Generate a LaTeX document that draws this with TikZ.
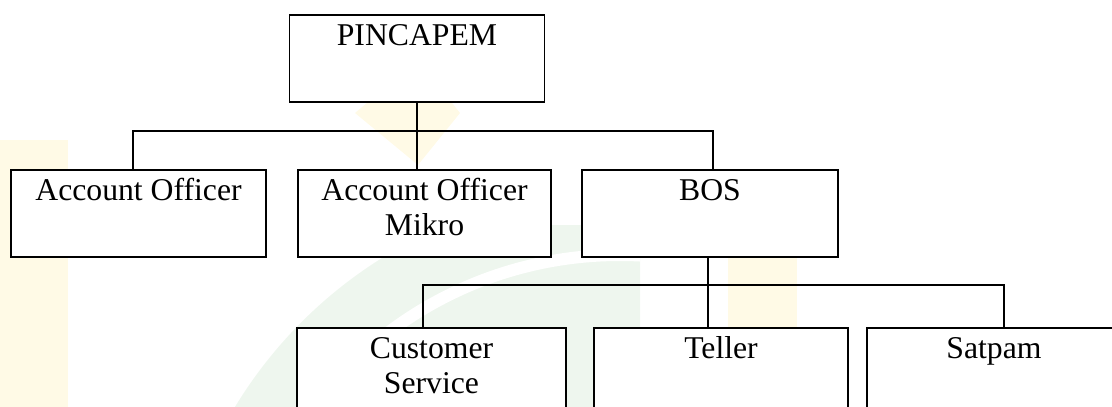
\documentclass[tikz,border=0pt]{standalone}
\usepackage{fontspec}
\setmainfont{Liberation Serif}
\usepackage{xcolor}
\usepackage{tikz}
\definecolor{markyellow}{HTML}{FFFAE6}
\definecolor{markgreen}{HTML}{EEF6EE}

\begin{document}
\begin{tikzpicture}[
  x=1pt, y=-1pt,
  unit/.style={
    rectangle, anchor=north,
    draw=black, fill=white, line width=1.6pt,
    inner sep=0pt, minimum height=87pt,
    text height=31pt, text depth=56pt,
    font=\fontsize{31.7}{35}\selectfont},
  ln/.style={line width=1.5pt},
]
  \useasboundingbox (0,0) rectangle (1112,407);

  % faint watermark behind the chart
  \fill[markyellow] (0,140) rectangle (68,407);
  \fill[markyellow] (728,250) rectangle (797,407);
  \fill[markyellow] (355,113) -- (418,60) -- (460,113) -- (418,165) -- cycle;
  \begin{scope}
    \clip (150,225) rectangle (640,407);
    \fill[markgreen] (620,640) circle (450);
    \draw[white, line width=12pt] (620,640) circle (385);
  \end{scope}

  \node[unit, minimum width=255pt] (pin) at (417,14) {PINCAPEM};

  \node[unit, minimum width=255pt] (ao)  at (138.5,169) {Account Officer};
  \node[unit, minimum width=253pt] (aom) at (424.5,169)
    {\begin{tabular}[t]{@{}c@{}}Account Officer\\Mikro\end{tabular}};
  \node[unit, minimum width=256pt] (bos) at (710,169) {BOS};

  \node[unit, minimum width=269pt] (cs)  at (431.5,327)
    {\begin{tabular}[t]{@{}c@{}}Customer\\Service\end{tabular}};
  \node[unit, minimum width=254pt] (tel) at (721,327) {Teller};
  \node[unit, minimum width=254pt] (sat) at (994,327) {Satpam};

  \coordinate (barA) at (418,131);
  \coordinate (barB) at (708,285);

  \draw[ln] (pin.south) -- (aom.north -| pin.south);
  \draw[ln] ([xshift=-5.5pt]ao.north) |- (barA) -| ([xshift=3pt]bos.north);
  \draw[ln] ([xshift=-2pt]bos.south) -- (tel.north -| barB);
  \draw[ln] ([xshift=-8.5pt]cs.north) |- (barB) -| ([xshift=10pt]sat.north);
\end{tikzpicture}
\end{document}
